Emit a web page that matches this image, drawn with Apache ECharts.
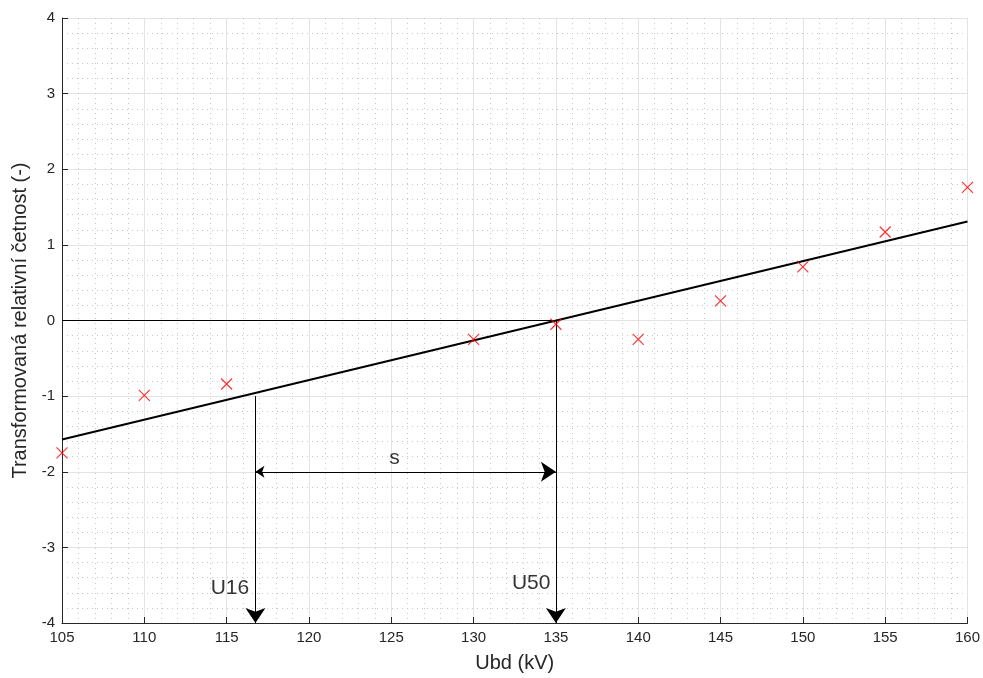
<!DOCTYPE html>
<html>
<head>
<meta charset="utf-8">
<script src="https://cdn.jsdelivr.net/npm/echarts@6/dist/echarts.min.js"></script>
<style>
html,body{margin:0;padding:0;background:#fff;}
#chart{width:983px;height:678px;}
</style>
</head>
<body>
<div id="chart"></div>
<script>
// Measured breakdown voltages and transformed relative frequencies
const voltages = [105, 110, 115, 130, 135, 140, 145, 150, 155, 160];
const transformedFreq = [-1.75, -0.99, -0.84, -0.25, -0.05, -0.25, 0.26, 0.71, 1.17, 1.76];

// Fitted straight line (end points)
const fitX = [105, 160];
const fitY = [-1.573, 1.308];

// Construction of U50, U16 and s
const u50 = 135;
const u16 = 116.75;
const yBottom = -4;
const sLevel = -2;

const xTicks = { min: 105, max: 160, step: 5 };
const yTicks = { min: -4, max: 4, step: 1 };

const axisColor = '#262626';
const font = '"Liberation Sans", Arial, Helvetica, sans-serif';

const chart = echarts.init(document.getElementById('chart'));

function segment(p0, p1, symbols) {
  return {
    type: 'lines',
    coordinateSystem: 'cartesian2d',
    polyline: false,
    silent: true,
    symbol: symbols,
    symbolSize: [9, 15],
    lineStyle: { color: '#000', width: 1, opacity: 1 },
    data: [{ coords: [p0, p1] }],
    z: 5
  };
}

const labelStyle = { fontSize: 21, color: '#000', fontFamily: font };

chart.setOption({
  animation: false,
  grid: { left: 62, right: 14, top: 18, bottom: 55 },
  xAxis: {
    type: 'value',
    min: xTicks.min, max: xTicks.max, interval: xTicks.step,
    name: 'Ubd (kV)', nameLocation: 'middle', nameGap: 30,
    nameTextStyle: { fontSize: 20, color: axisColor, fontFamily: font },
    axisLine: { show: true, onZero: false, lineStyle: { color: axisColor, width: 1 } },
    axisTick: { show: true, inside: true, length: 6, lineStyle: { color: axisColor } },
    axisLabel: { fontSize: 15, color: axisColor, fontFamily: font, margin: 7 },
    splitLine: { show: true, lineStyle: { color: '#e3e3e3', width: 1 } },
    minorTick: { show: false, splitNumber: 5 },
    minorSplitLine: { show: true, lineStyle: { color: '#c8c8c8', width: 1, type: [1, 4] } }
  },
  yAxis: {
    type: 'value',
    min: yTicks.min, max: yTicks.max, interval: yTicks.step,
    name: 'Transformovaná relativní četnost (-)', nameLocation: 'middle', nameGap: 32,
    nameTextStyle: { fontSize: 20, color: axisColor, fontFamily: font },
    axisLine: { show: true, onZero: false, lineStyle: { color: axisColor, width: 1 } },
    axisTick: { show: true, inside: true, length: 6, lineStyle: { color: axisColor } },
    axisLabel: { fontSize: 15, color: axisColor, fontFamily: font, margin: 7 },
    splitLine: { show: true, lineStyle: { color: '#e3e3e3', width: 1 } },
    minorTick: { show: false, splitNumber: 5 },
    minorSplitLine: { show: true, lineStyle: { color: '#c8c8c8', width: 1, type: [1, 4] } }
  },
  series: [
    {
      name: 'data',
      type: 'scatter',
      symbol: 'path://M0,0L10,10M10,0L0,10',
      symbolSize: 11,
      itemStyle: { color: 'none', borderColor: '#ff0000', borderWidth: 1.2 },
      data: voltages.map((v, i) => [v, transformedFreq[i]]),
      clip: false,
      z: 6
    },
    {
      name: 'fit',
      type: 'line',
      showSymbol: false,
      symbol: 'none',
      lineStyle: { color: '#000', width: 2 },
      data: fitX.map((v, i) => [v, fitY[i]]),
      z: 4
    },
    {
      name: 'zero',
      type: 'line',
      showSymbol: false,
      symbol: 'none',
      lineStyle: { color: '#000', width: 1 },
      data: [[xTicks.min, 0], [u50, 0]],
      z: 4
    },
    segment([u50, 0], [u50, yBottom], ['none', 'arrow']),
    segment([u16, -1], [u16, yBottom], ['none', 'arrow']),
    segment([u16, sLevel], [u50, sLevel], ['arrow', 'arrow']),
    {
      name: 'labels',
      type: 'scatter',
      symbolSize: 0,
      silent: true,
      clip: false,
      data: [
        { value: [125.2, -1.82], label: { show: true, formatter: 's', position: 'inside', ...labelStyle } },
        { value: [115.2, -3.54], label: { show: true, formatter: 'U16', position: 'inside', ...labelStyle } },
        { value: [133.5, -3.47], label: { show: true, formatter: 'U50', position: 'inside', ...labelStyle } }
      ],
      z: 7
    }
  ]
});
</script>
</body>
</html>
